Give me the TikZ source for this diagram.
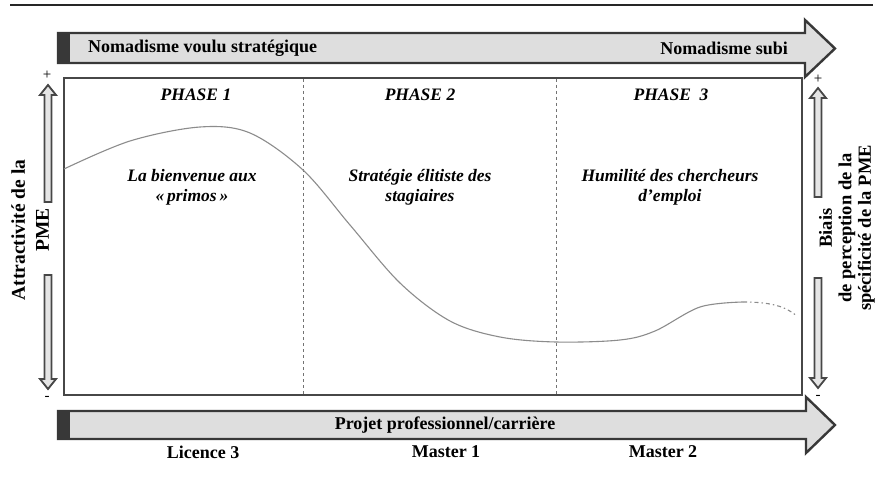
\documentclass[tikz,border=0pt]{standalone}
\usepackage{fontspec}
\setmainfont{Liberation Serif}
\begin{document}
\begin{tikzpicture}[x=1pt,y=-1pt,
  lbl/.style={font=\fontsize{18}{21}\selectfont\bfseries, inner sep=0pt},
  ilbl/.style={font=\fontsize{17.5}{20}\selectfont\bfseries\itshape, inner sep=0pt, align=center},
  sign/.style={font=\fontsize{15}{15}\selectfont, inner sep=0pt},
  blockarrow/.style={draw=black!78, line width=2.4pt, fill=black!13, line join=miter},
  hollow/.style={draw=black!72, line width=1.8pt, fill=black!10, line join=miter},
  phaseline/.style={draw=black!55, dashed, line width=0.6pt},
  curve/.style={draw=black!45, line width=1.1pt}]
\useasboundingbox (0,0) rectangle (879,492);
\fill[white] (0,0) rectangle (879,492);
% top rule
\draw[line width=2.6pt, black!85] (10,5) -- (873,5);
% top block arrow
\path[blockarrow] (58,33) -- (805,33) -- (805,20) -- (835,48.5) -- (805,77) -- (805,63) -- (58,63) -- cycle;
\fill[black!78] (58,33) rectangle (70,63);
\node[lbl, anchor=west] (nvs) at (88,48) {Nomadisme voulu stratégique};
\node[lbl, anchor=east] (ns) at (788,48) {Nomadisme subi};
% bottom block arrow
\path[blockarrow] (58,411) -- (806,411) -- (806,397) -- (835,425) -- (806,453) -- (806,439) -- (58,439) -- cycle;
\fill[black!78] (58,411) rectangle (70,439);
\node[lbl] (ppc) at (445,425) {Projet professionnel/carrière};
\node[lbl] (l3) at (203,452) {Licence 3};
\node[lbl] (m1) at (446,452) {Master 1};
\node[lbl] (m2) at (663,452) {Master 2};
% main box
\draw[draw=black!72, line width=2.8pt, fill=white] (64,78) rectangle (802,395);
\draw[phaseline] (303,79) -- (303,394);
\draw[phaseline] (556,79) -- (556,394);
% phases
\node[ilbl] (p1) at (196,95) {PHASE 1};
\node[ilbl] (p2) at (420,95) {PHASE 2};
\node[ilbl] (p3) at (671,95) {PHASE\ \ 3};
\node[ilbl] (t1) at (192,187) {La bienvenue aux\\«\,primos\,»};
\node[ilbl] (t2) at (420,187) {Stratégie élitiste des\\stagiaires};
\node[ilbl] (t3) at (670,187) {Humilité des chercheurs\\d’emploi};
% curve
\draw[curve] plot[smooth, tension=0.55] coordinates {(64,169) (130,141) (200,127) (250,133) (303,170) (350,225) (400,283) (450,321) (500,337) (556,342) (620,340) (655,331) (700,307) (743,302)};
\draw[curve, dash pattern=on 4pt off 3pt on 1.5pt off 3pt] (743,302) .. controls (770,302) and (785,306) .. (797,316);
% left vertical arrows
\path[hollow] (48,85) -- (56,95) -- (51.5,95) -- (51.5,202) -- (44.5,202) -- (44.5,95) -- (40,95) -- cycle;
\path[hollow] (48,389) -- (56,379) -- (51.5,379) -- (51.5,275) -- (44.5,275) -- (44.5,379) -- (40,379) -- cycle;
\node[sign] (lp) at (47,75) {+};
\node[sign] (lm) at (47,398) {-};
\node[rotate=90, align=center, inner sep=0pt, font=\fontsize{19.5}{24}\selectfont\bfseries] (attr) at (30,230) {Attractivité de la\\PME};
% right vertical arrows
\path[hollow] (818,88) -- (826,98) -- (821.5,98) -- (821.5,197) -- (814.5,197) -- (814.5,98) -- (810,98) -- cycle;
\path[hollow] (818,388) -- (826,378) -- (821.5,378) -- (821.5,278) -- (814.5,278) -- (814.5,378) -- (810,378) -- cycle;
\node[sign] (rp) at (818,79) {+};
\node[sign] (rm) at (818,397) {-};
\node[rotate=90, align=center, inner sep=0pt, font=\fontsize{18.5}{19.5}\selectfont\bfseries] (biais) at (847,228) {Biais\\de perception de la\\spécificité de la PME};
\end{tikzpicture}
\end{document}
